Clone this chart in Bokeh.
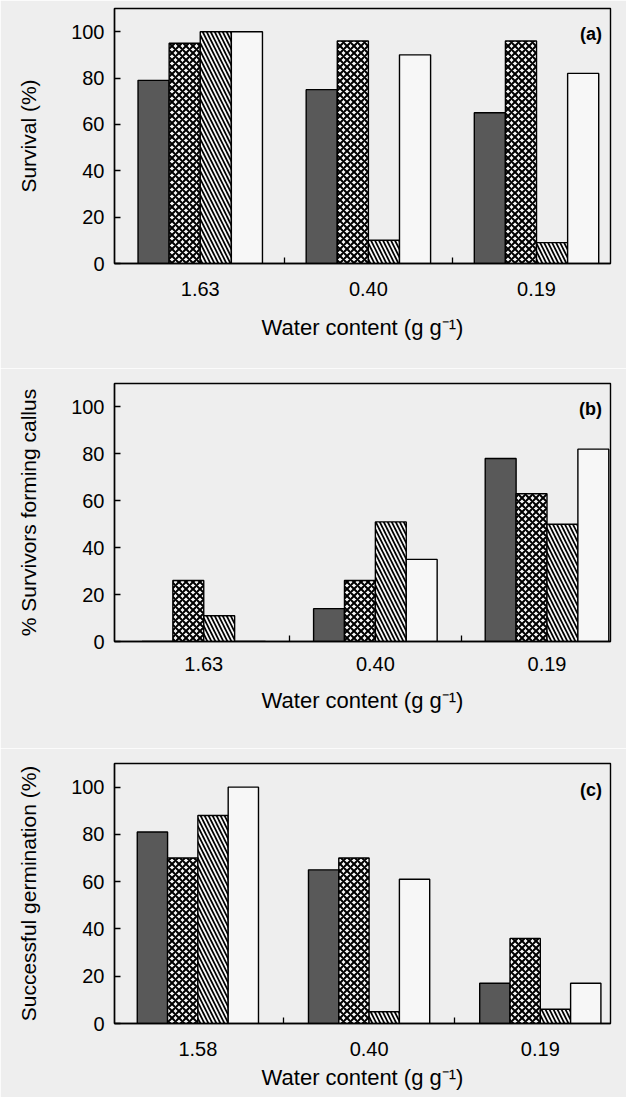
from bokeh.plotting import figure
from bokeh.models import ColumnDataSource, FixedTicker, Label, Range1d
from bokeh.layouts import column
from bokeh.transform import dodge
from bokeh.embed import file_html
from bokeh.resources import INLINE

# ---- data ----
water_ab = ["1.63", "0.40", "0.19"]
water_c = ["1.58", "0.40", "0.19"]

survival_dark = [79, 75, 65]
survival_cross = [95, 96, 96]
survival_hatch = [100, 10, 9]
survival_open = [100, 90, 82]

callus_dark = [0, 14, 78]
callus_cross = [26, 26, 63]
callus_hatch = [11, 51, 50]
callus_open = [0, 35, 82]

germ_dark = [81, 65, 17]
germ_cross = [70, 70, 36]
germ_hatch = [88, 5, 6]
germ_open = [100, 61, 17]

y_ticks = [0, 20, 40, 60, 80, 100]

FONT = "Liberation Sans"
BG = "#eeeeee"


def panel(cats, dark, cross, hatch, opn, ylabel, tag, height, borders, xr, bar_w,
          tick_standoff, title_standoff):
    left, right, top, bottom = borders
    src = ColumnDataSource(dict(x=list(range(len(cats))), dark=dark, cross=cross,
                                hatch=hatch, opn=opn))
    p = figure(width=626, height=height, output_backend="svg", toolbar_location=None,
               x_range=Range1d(*xr), y_range=Range1d(0, 110),
               min_border_left=left, min_border_right=right,
               min_border_top=top, min_border_bottom=bottom)
    p.background_fill_color = BG
    p.border_fill_color = BG
    p.outline_line_color = "black"
    p.outline_line_width = 1.4
    p.grid.visible = False

    offs = [-1.5 * bar_w, -0.5 * bar_w, 0.5 * bar_w, 1.5 * bar_w]
    p.vbar(x=dodge("x", offs[0], range=p.x_range), top="dark", width=bar_w, source=src,
           fill_color="#595959", line_color="black", line_width=1.4)
    p.vbar(x=dodge("x", offs[1], range=p.x_range), top="cross", width=bar_w, source=src,
           fill_color="#f7f7f7", hatch_pattern="diagonal_cross", hatch_color="black",
           hatch_scale=7, hatch_weight=2.0, line_color="black", line_width=1.4)
    p.vbar(x=dodge("x", offs[2], range=p.x_range), top="hatch", width=bar_w, source=src,
           fill_color="#f7f7f7", hatch_pattern="left_diagonal_line", hatch_color="black",
           hatch_scale=8, hatch_weight=1.7, line_color="black", line_width=1.4)
    p.vbar(x=dodge("x", offs[3], range=p.x_range), top="opn", width=bar_w, source=src,
           fill_color="#f7f7f7", line_color="black", line_width=1.4)

    xa = p.xaxis[0]
    xa.ticker = FixedTicker(ticks=list(range(len(cats))),
                            minor_ticks=[i + 0.5 for i in range(len(cats) - 1)])
    xa.major_label_overrides = {i: c for i, c in enumerate(cats)}
    xa.major_tick_in = 0
    xa.major_tick_out = 0
    xa.minor_tick_in = 6
    xa.minor_tick_out = 0
    xa.minor_tick_line_color = "black"
    xa.minor_tick_line_width = 1.3
    xa.axis_line_width = 1.4
    xa.major_label_standoff = tick_standoff
    xa.axis_label = "Water content (g g\u207b\u00b9)"
    xa.axis_label_standoff = title_standoff
    xa.axis_label_text_font_size = "22px"

    ya = p.yaxis[0]
    ya.ticker = FixedTicker(ticks=y_ticks)
    ya.major_tick_in = 6
    ya.major_tick_out = 0
    ya.minor_tick_line_color = None
    ya.axis_line_width = 1.4
    ya.major_tick_line_width = 1.3
    ya.major_label_standoff = 10
    ya.axis_label = ylabel
    ya.axis_label_standoff = 28
    ya.axis_label_text_font_size = "21px"

    for ax in (xa, ya):
        ax.major_label_text_font = FONT
        ax.major_label_text_font_size = "20px"
        ax.major_label_text_color = "black"
        ax.axis_label_text_font = FONT
        ax.axis_label_text_font_style = "normal"
        ax.axis_label_text_color = "black"

    p.add_layout(Label(x=xr[1] - 0.05, y=99, text=tag, text_align="right",
                       text_baseline="middle", text_font=FONT, text_font_size="18px",
                       text_font_style="bold", text_color="black"))
    return p


pa = panel(water_ab, survival_dark, survival_cross, survival_hatch, survival_open,
           "Survival (%)", "(a)", 368, (109, 14, 8, 105), (-0.51, 2.44), 0.185, 18, 16)
pb = panel(water_ab, callus_dark, callus_cross, callus_hatch, callus_open,
           "% Survivors forming callus", "(b)", 380, (111, 16, 15, 107), (-0.52, 2.37), 0.18, 15, 14)
pc = panel(water_c, germ_dark, germ_cross, germ_hatch, germ_open,
           "Successful germination (%)", "(c)", 349, (114, 5, 15, 74), (-0.487, 2.41), 0.177, 18, 6)

layout = column(pa, pb, pc, spacing=0)
with open("out.html", "w") as f:
    f.write(file_html(layout, INLINE))
